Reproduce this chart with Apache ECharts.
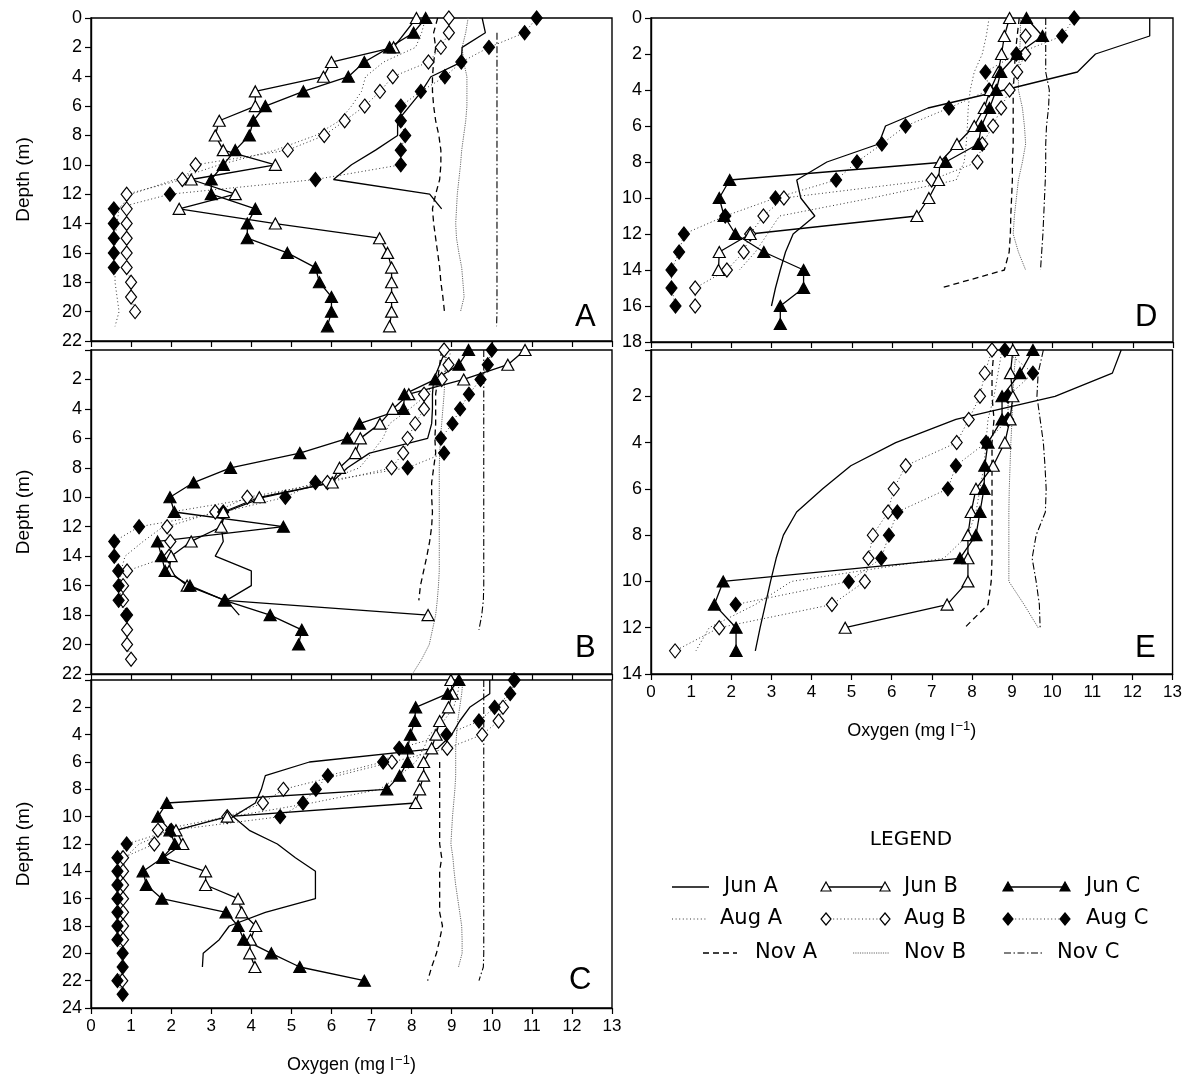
<!DOCTYPE html>
<html><head><meta charset="utf-8">
<script src="https://cdn.jsdelivr.net/npm/echarts/dist/echarts.min.js"></script>
<style>html,body{margin:0;padding:0;background:#fff}#c{width:1185px;height:1079px}</style>
</head><body><div id="c"></div>
<script>
// Each pair: [depth (m), oxygen (mg/l)]
// ---- Panel A ----
const A_JunA = [[0,9.76],[1,9.84],[2,9.26],[3,9.24],[4,8.48],[5,8.25],[6,7.95],[7,7.65],[8,7.65],[9,7.1],[10,6.5],[11,6.05],[12,8.45],[13,8.75]];
const A_JunB = [[0,8.12],[2,7.55],[3,6.0],[4,5.8],[5,4.1],[6,4.1],[7,3.2],[8,3.1],[9,3.3],[10,4.6],[11,2.5],[12,3.6],[13,2.2],[14,4.6],[15,7.2],[16,7.4],[17,7.5],[18,7.5],[19,7.5],[20,7.5],[21,7.45]];
const A_JunC = [[0,8.35],[1,8.05],[2,7.45],[3,6.82],[4,6.42],[5,5.3],[6,4.35],[7,4.05],[8,3.95],[9,3.6],[10,3.3],[11,3.0],[12,3.0],[13,4.1],[14,3.9],[15,3.9],[16,4.9],[17,5.6],[18,5.7],[19,6.0],[20,6.0],[21,5.9]];
const A_AugA = [[0,8.35],[1,8.25],[2,8.1],[3,7.3],[4,6.85],[5,6.75],[6,6.5],[7,6.2],[8,5.6],[9,4.6],[10,3.2],[11,2.1],[12,1.0],[13,0.7],[14,0.65],[15,0.6],[16,0.6],[17,0.6],[18,0.6],[19,0.65],[20,0.7],[21,0.6]];
const A_AugB = [[0,8.93],[1,8.93],[2,8.73],[3,8.42],[4,7.53],[5,7.21],[6,6.83],[7,6.33],[8,5.82],[9,4.91],[10,2.61],[11,2.28],[12,0.89],[13,0.89],[14,0.89],[15,0.89],[16,0.89],[17,0.89],[18,1.0],[19,1.0],[20,1.1]];
const A_AugC = [[0,11.12],[1,10.82],[2,9.93],[3,9.24],[4,8.83],[5,8.23],[6,7.73],[7,7.73],[8,7.84],[9,7.73],[10,7.73],[11,5.6],[12,1.97],[13,0.57],[14,0.57],[15,0.57],[16,0.57],[17,0.57]];
const A_NovA = [[0,8.65],[1,8.55],[2,8.6],[3,8.55],[4,8.52],[5,8.52],[6,8.55],[7,8.6],[8,8.68],[9,8.73],[10,8.73],[11,8.7],[12,8.6],[13,8.52],[14,8.55],[15,8.6],[16,8.65],[17,8.7],[18,8.73],[19,8.78],[20,8.82]];
const A_NovB = [[0,9.41],[1,9.35],[2,9.26],[3,9.3],[4,9.38],[5,9.38],[6,9.38],[7,9.35],[8,9.3],[9,9.25],[10,9.22],[11,9.18],[12,9.14],[13,9.12],[14,9.1],[15,9.12],[16,9.18],[17,9.25],[18,9.28],[19,9.31],[20,9.22]];
const A_NovC = [[1,10.13],[2,10.13],[3,10.13],[4,10.13],[5,10.13],[6,10.13],[7,10.13],[8,10.13],[9,10.13],[10,10.13],[11,10.13],[12,10.13],[13,10.13],[14,10.13],[15,10.13],[16,10.13],[17,10.13],[18,10.13],[19,10.13],[20,10.13],[21,10.12]];
// ---- Panel B ----
const B_JunA = [[0,8.85],[1,8.7],[2,8.55],[3,8.52],[4,8.52],[5,8.5],[6,8.4],[7,6.95],[8,6.4],[9,6.0],[10,4.3],[11,3.35],[12,3.25],[13,3.3],[14,3.1],[15,4.0],[16,4.0],[17,3.38],[18,3.7]];
const B_JunB = [[0,10.83],[1,10.4],[2,9.3],[3,7.93],[4,7.53],[5,7.21],[6,6.72],[7,6.6],[8,6.2],[9,6.02],[10,4.2],[11,3.3],[12,3.25],[13,2.5],[14,2.0],[15,1.95],[16,2.4],[17,3.35],[18,8.41]];
const B_JunC = [[0,9.42],[1,9.18],[2,8.59],[3,7.82],[4,7.8],[5,6.7],[6,6.4],[7,5.21],[8,3.48],[9,2.56],[10,1.97],[11,2.08],[12,4.8],[13,1.66],[14,1.76],[15,1.85],[16,2.47],[17,3.33],[18,4.47],[19,5.26],[20,5.18]];
const B_AugA = [[0,8.98],[1,8.9],[2,8.75],[3,8.4],[4,7.95],[5,7.45],[6,7.28],[7,7.0],[8,6.7],[9,5.7],[10,4.2],[11,2.0],[12,1.8],[13,1.3],[14,0.85],[15,0.75],[16,0.72],[17,0.75]];
const B_AugB = [[0,8.81],[1,8.92],[2,8.75],[3,8.31],[4,8.31],[5,8.09],[6,7.9],[7,7.79],[8,7.5],[9,5.9],[10,3.9],[11,3.1],[12,1.9],[13,1.98],[14,1.95],[15,0.9],[16,0.8],[17,0.8],[18,0.9],[19,0.9],[20,0.9],[21,1.0]];
const B_AugC = [[0,10.0],[1,9.9],[2,9.72],[3,9.43],[4,9.21],[5,9.02],[6,8.73],[7,8.81],[8,7.9],[9,5.6],[10,4.85],[11,3.3],[12,1.2],[13,0.58],[14,0.58],[15,0.68],[16,0.69],[17,0.69],[18,0.88]];
const B_NovA = [[0,8.75],[1,8.7],[2,8.65],[3,8.6],[4,8.6],[5,8.6],[6,8.58],[7,8.6],[8,8.55],[9,8.5],[10,8.5],[11,8.52],[12,8.5],[13,8.45],[14,8.38],[15,8.3],[16,8.22],[17,8.18]];
const B_NovB = [[0,8.85],[1,8.84],[2,8.83],[3,8.81],[4,8.78],[5,8.75],[6,8.72],[7,8.7],[8,8.69],[9,8.69],[10,8.69],[11,8.69],[12,8.69],[13,8.69],[14,8.69],[15,8.69],[16,8.67],[17,8.64],[18,8.6],[19,8.52],[20,8.44],[21,8.25],[22,8.02]];
const B_NovC = [[0,9.8],[1,9.8],[2,9.8],[3,9.8],[4,9.8],[5,9.8],[6,9.8],[7,9.8],[8,9.8],[9,9.8],[10,9.8],[11,9.8],[12,9.8],[13,9.8],[14,9.8],[15,9.8],[16,9.8],[17,9.79],[18,9.75],[19,9.68]];
// ---- Panel C ----
const C_JunA = [[0,9.95],[1,9.95],[2,9.45],[3,9.2],[4,9.0],[5,8.65],[6,5.45],[7,4.35],[8,4.25],[9,4.1],[10,3.55],[11,3.95],[12,4.65],[13,5.1],[14,5.6],[15,5.6],[16,5.6],[17,4.35],[18,3.45],[19,3.2],[20,2.8],[21,2.78]];
const C_JunB = [[0,8.98],[1,9.02],[2,8.92],[3,8.7],[4,8.61],[5,8.5],[6,8.3],[7,8.3],[8,8.2],[9,8.1],[10,3.4],[11,2.12],[12,2.29],[13,1.8],[14,2.86],[15,2.86],[16,3.67],[17,3.76],[18,4.11],[19,3.98],[20,3.96],[21,4.09]];
const C_JunC = [[0,9.18],[1,8.9],[2,8.1],[3,8.08],[4,7.97],[5,7.9],[6,7.9],[7,7.7],[8,7.38],[9,1.89],[10,1.67],[11,1.97],[12,2.09],[13,1.79],[14,1.3],[15,1.38],[16,1.77],[17,3.37],[18,3.67],[19,3.81],[20,4.5],[21,5.21],[22,6.82]];
const C_AugA = [[0,9.2],[1,9.15],[2,9.05],[3,8.8],[4,8.45],[5,8.3],[6,8.1],[7,7.7],[8,7.2],[9,5.5],[10,3.5],[11,2.0],[12,1.2],[13,0.85],[14,0.8],[15,0.8],[16,0.8],[17,0.8],[18,0.8],[19,0.8]];
const C_AugB = [[0,10.55],[2,10.28],[3,10.17],[4,9.76],[5,8.89],[6,7.51],[8,4.8],[9,4.29],[10,3.4],[11,1.67],[12,1.58],[13,0.8],[14,0.8],[15,0.8],[16,0.8],[17,0.8],[18,0.8],[19,0.8],[22,0.78]];
const C_AugC = [[0,10.57],[1,10.46],[2,10.07],[3,9.68],[4,8.87],[5,7.69],[6,7.29],[7,5.91],[8,5.61],[9,5.29],[10,4.72],[11,2.0],[12,0.89],[13,0.66],[14,0.66],[15,0.66],[16,0.66],[17,0.66],[18,0.66],[19,0.66],[20,0.79],[21,0.79],[22,0.66],[23,0.79]];
const C_NovA = [[6,8.7],[7,8.7],[8,8.7],[9,8.7],[10,8.7],[11,8.7],[12,8.7],[13,8.75],[14,8.7],[15,8.7],[16,8.7],[17,8.7],[18,8.77],[19,8.7],[20,8.62],[21,8.5],[22,8.4]];
const C_NovB = [[0,9.28],[1,9.25],[2,9.2],[3,9.15],[4,9.12],[5,9.1],[6,9.1],[7,9.1],[8,9.08],[9,9.05],[10,9.02],[11,9.0],[12,8.98],[13,9.03],[14,9.06],[15,9.1],[16,9.15],[17,9.2],[18,9.25],[19,9.26],[20,9.26],[21,9.17]];
const C_NovC = [[0,9.8],[1,9.8],[2,9.8],[3,9.8],[4,9.8],[5,9.8],[6,9.8],[7,9.8],[8,9.8],[9,9.8],[10,9.8],[11,9.8],[12,9.8],[13,9.8],[14,9.8],[15,9.8],[16,9.8],[17,9.8],[18,9.8],[19,9.8],[20,9.8],[21,9.79],[22,9.68]];
// ---- Panel D ----
const D_JunA = [[0,12.42],[1,12.42],[2,11.07],[3,10.62],[4,8.8],[5,6.9],[6,5.84],[7,5.67],[8,4.38],[9,3.63],[10,3.73],[11,4.08],[12,3.54],[13,3.35],[14,3.22],[15,3.1],[16,3.0]];
const D_JunB = [[0,8.93],[1,8.8],[2,8.73],[3,8.65],[4,8.45],[5,8.3],[6,8.05],[7,7.62],[8,7.2],[9,7.16],[10,6.92],[11,6.62],[12,2.47],[13,1.7],[14,1.68]];
const D_JunC = [[0,9.35],[1,9.75],[2,9.12],[3,8.71],[4,8.6],[5,8.43],[6,8.23],[7,8.15],[8,7.34],[9,1.96],[10,1.7],[11,1.82],[12,2.1],[13,2.81],[14,3.8],[15,3.8],[16,3.22],[17,3.22]];
const D_AugA = [[0,8.42],[1,8.35],[2,8.25],[3,8.05],[4,7.95],[5,7.9],[6,7.88],[7,7.85],[8,7.8],[9,7.6],[10,5.5],[11,3.2],[12,2.9],[13,2.6],[14,2.2]];
const D_AugB = [[1,9.33],[2,9.32],[3,9.12],[4,8.93],[5,8.72],[6,8.52],[7,8.25],[8,8.13],[9,6.99],[10,3.31],[11,2.8],[12,2.47],[13,2.31],[14,1.89],[15,1.1],[16,1.1]];
const D_AugC = [[0,10.54],[1,10.24],[2,9.1],[3,8.33],[4,8.42],[5,7.42],[6,6.34],[7,5.75],[8,5.13],[9,4.61],[10,3.1],[11,1.85],[12,0.82],[13,0.7],[14,0.51],[15,0.51],[16,0.61]];
const D_NovA = [[0,9.17],[1,9.12],[2,9.07],[3,9.05],[4,9.02],[5,9.02],[6,9.02],[7,9.02],[8,9.0],[9,9.0],[10,8.98],[11,8.96],[12,8.95],[13,8.92],[14,8.8],[15,7.22]];
const D_NovB = [[0,9.2],[1,9.2],[2,9.18],[3,9.15],[4,9.15],[5,9.25],[6,9.3],[7,9.33],[8,9.25],[9,9.15],[10,9.1],[11,9.05],[12,9.02],[13,9.15],[14,9.33]];
const D_NovC = [[0,9.83],[1,9.83],[2,9.83],[3,9.83],[4,9.92],[5,9.9],[6,9.85],[7,9.83],[8,9.83],[9,9.82],[10,9.8],[11,9.78],[12,9.76],[13,9.73],[14,9.7]];
// ---- Panel E ----
const E_JunA = [[0,11.72],[1,11.5],[2,10.07],[3,7.6],[4,6.1],[5,4.98],[6,4.28],[7,3.63],[8,3.3],[9,3.12],[10,2.98],[11,2.85],[12,2.72],[13,2.6]];
const E_JunB = [[0,9.02],[1,8.96],[2,9.02],[3,8.95],[4,8.82],[5,8.53],[6,8.1],[7,7.98],[8,7.9],[9,7.9],[10,7.9],[11,7.38],[12,4.84]];
const E_JunC = [[0,9.52],[1,9.2],[2,8.75],[3,8.75],[4,8.4],[5,8.32],[6,8.3],[7,8.2],[8,8.1],[9,7.7],[10,1.8],[11,1.58],[12,2.12],[13,2.12]];
const E_AugA = [[0,8.75],[1,8.65],[2,8.55],[3,8.4],[4,8.35],[5,8.3],[6,8.2],[7,8.1],[8,7.9],[9,7.3],[10,3.5],[11,2.6],[12,1.45],[13,1.12]];
const E_AugB = [[0,8.5],[1,8.32],[2,8.2],[3,7.92],[4,7.62],[5,6.35],[6,6.05],[7,5.91],[8,5.53],[9,5.42],[10,5.33],[11,4.51],[12,1.7],[13,0.6]];
const E_AugC = [[0,8.82],[1,9.52],[2,8.9],[3,8.9],[4,8.35],[5,7.6],[6,7.4],[7,6.14],[8,5.93],[9,5.74],[10,4.93],[11,2.11]];
const E_NovA = [[0,8.55],[1,8.5],[2,8.5],[3,8.55],[4,8.5],[5,8.5],[6,8.5],[7,8.5],[8,8.5],[9,8.5],[10,8.48],[11,8.4],[12,7.82]];
const E_NovB = [[0,9.1],[1,9.05],[2,9.02],[3,9.0],[4,8.97],[5,8.95],[6,8.93],[7,8.92],[8,8.92],[9,8.92],[10,8.92],[11,9.3],[12,9.65]];
const E_NovC = [[0,9.78],[1,9.65],[2,9.62],[3,9.7],[4,9.78],[5,9.82],[6,9.85],[7,9.83],[8,9.6],[9,9.5],[10,9.6],[11,9.68],[12,9.7]];

const X_TICKS = [0,1,2,3,4,5,6,7,8,9,10,11,12,13];
const SERIES_NAMES = ['Jun A','Jun B','Jun C','Aug A','Aug B','Aug C','Nov A','Nov B','Nov C'];

const PANEL_DATA = {
  A: [A_JunA,A_JunB,A_JunC,A_AugA,A_AugB,A_AugC,A_NovA,A_NovB,A_NovC],
  B: [B_JunA,B_JunB,B_JunC,B_AugA,B_AugB,B_AugC,B_NovA,B_NovB,B_NovC],
  C: [C_JunA,C_JunB,C_JunC,C_AugA,C_AugB,C_AugC,C_NovA,C_NovB,C_NovC],
  D: [D_JunA,D_JunB,D_JunC,D_AugA,D_AugB,D_AugC,D_NovA,D_NovB,D_NovC],
  E: [E_JunA,E_JunB,E_JunC,E_AugA,E_AugB,E_AugC,E_NovA,E_NovB,E_NovC]
};

const FONT = 'Liberation Sans, Arial, sans-serif';
const PANELS = [
  {key:'A', left:91, top:18, width:521, height:323, ymax:22, show0:true, xLab:false, yName:true},
  {key:'B', left:91, top:350, width:521, height:324, ymax:22, show0:false, xLab:false, yName:true},
  {key:'C', left:91, top:680, width:521, height:328, ymax:24, show0:false, xLab:true, yName:true},
  {key:'D', left:651, top:18, width:522, height:324, ymax:18, show0:true, xLab:false, yName:false},
  {key:'E', left:651, top:350, width:522, height:324, ymax:14, show0:false, xLab:true, yName:false}
];

const DOT = [1,2.6], FINE = [1.2,1.1], DASH = [6,4], DASHDOT = [7,2.5,1.5,2.5];
const STYLE = [
  {lt:'solid', lw:1.3, lc:'#000', sym:'none'},
  {lt:'solid', lw:1.3, lc:'#000', sym:'triangle', fill:'#fff'},
  {lt:'solid', lw:1.3, lc:'#000', sym:'triangle', fill:'#000'},
  {lt:DOT, lw:1, lc:'#333', sym:'none'},
  {lt:DOT, lw:1, lc:'#333', sym:'diamond', fill:'#fff'},
  {lt:DOT, lw:1, lc:'#333', sym:'diamond', fill:'#000'},
  {lt:DASH, lw:1.3, lc:'#000', sym:'none'},
  {lt:FINE, lw:1, lc:'#666', sym:'none'},
  {lt:DASHDOT, lw:1.1, lc:'#000', sym:'none'}
];
const DRAW_ORDER = [6,7,8,3,0,4,5,1,2];

const grid = [], xAxis = [], yAxis = [], series = [];
PANELS.forEach((p, i) => {
  grid.push({left:p.left, top:p.top, width:p.width, height:p.height, show:true, borderColor:'#000', borderWidth:1.4, backgroundColor:'transparent'});
  xAxis.push({
    type:'value', gridIndex:i, min:X_TICKS[0], max:X_TICKS[X_TICKS.length-1], interval:1,
    axisLine:{show:true, onZero:false, lineStyle:{color:'#000', width:1.4}},
    axisTick:{show:true, length:6, lineStyle:{color:'#000', width:1.2}},
    axisLabel:{show:p.xLab, fontSize:17, color:'#000', margin:10, fontFamily:FONT},
    splitLine:{show:false},
    name: p.xLab ? 'Oxygen (mg l{s|\u22121})' : '',
    nameLocation:'middle', nameGap:46,
    nameTextStyle:{fontSize:18, color:'#000', fontFamily:FONT,
      rich:{s:{fontSize:13, color:'#000', fontFamily:FONT, verticalAlign:'top', padding:[0,0,10,1]}}}
  });
  yAxis.push({
    type:'value', gridIndex:i, inverse:true, min:0, max:p.ymax, interval:2,
    axisLine:{show:true, onZero:false, lineStyle:{color:'#000', width:1.4}},
    axisTick:{show:true, length:6, lineStyle:{color:'#000', width:1.2}},
    axisLabel:{fontSize:18, color:'#000', margin:9, fontFamily:FONT,
      formatter:(v) => (v === 0 && !p.show0) ? '' : String(v)},
    splitLine:{show:false},
    name: p.yName ? 'Depth (m)' : '', nameLocation:'middle', nameGap:58, nameRotate:90,
    nameTextStyle:{fontSize:19, color:'#000', fontFamily:FONT}
  });
  const sets = PANEL_DATA[p.key];
  DRAW_ORDER.forEach(k => {
    const st = STYLE[k];
    const s = {
      type:'line', name:SERIES_NAMES[k] + ' ' + p.key, xAxisIndex:i, yAxisIndex:i,
      data: sets[k].map(d => [d[1], d[0]]),
      lineStyle:{type:st.lt, width:st.lw, color:st.lc},
      symbol:st.sym, showSymbol:st.sym !== 'none', showAllSymbol:true,
      silent:true, animation:false, clip:true
    };
    if (st.sym === 'triangle') { s.symbolSize = [12,11]; }
    if (st.sym === 'diamond') { s.symbolSize = [11,14]; }
    if (st.sym !== 'none') {
      s.itemStyle = {color:st.fill, borderColor:'#000', borderWidth:1.2, opacity:1};
    } else {
      s.itemStyle = {color:st.lc};
    }
    series.push(s);
  });
});

// legend & panel letters
const graphic = [];
const letters = [['A',575,302],['B',575,633],['C',569,965],['D',1135,302],['E',1135,633]];
letters.forEach(l => graphic.push({type:'text', x:l[1], y:l[2], style:{text:l[0], fill:'#000', font:'31px ' + FONT}}));

graphic.push({type:'text', x:911, y:840, style:{text:'LEGEND', textAlign:'center', textVerticalAlign:'middle', fill:'#000', font:'20px DejaVu Sans'}});
function lineEl(x1, x2, y, k) {
  const st = STYLE[k];
  return {type:'line', shape:{x1:x1, y1:y, x2:x2, y2:y}, style:{stroke:st.lc, lineWidth:st.lw, lineDash: Array.isArray(st.lt) ? st.lt : null}};
}
function symEl(cx, cy, k) {
  const st = STYLE[k];
  let pts;
  if (st.sym === 'triangle') pts = [[cx, cy-5],[cx+5, cy+4],[cx-5, cy+4]];
  else pts = [[cx, cy-6],[cx+5, cy],[cx, cy+6],[cx-5, cy]];
  return {type:'polygon', shape:{points:pts}, style:{fill:st.fill, stroke:'#000', lineWidth:1.2}, z:10};
}
function textEl(x, y, t) {
  return {type:'text', x:x, y:y, style:{text:t, textVerticalAlign:'middle', fill:'#000', font:'21px DejaVu Sans'}};
}
const rows = [887, 919, 953];
// column 1
graphic.push(lineEl(672, 709, rows[0], 0), textEl(724, rows[0], SERIES_NAMES[0]));
graphic.push(lineEl(672, 707, rows[1], 3), textEl(720, rows[1], SERIES_NAMES[3]));
graphic.push(lineEl(703, 737, rows[2], 6), textEl(755, rows[2], SERIES_NAMES[6]));
// column 2
graphic.push(lineEl(826, 885, rows[0], 1), symEl(826, rows[0], 1), symEl(885, rows[0], 1), textEl(904, rows[0], SERIES_NAMES[1]));
graphic.push(lineEl(826, 885, rows[1], 4), symEl(826, rows[1], 4), symEl(885, rows[1], 4), textEl(904, rows[1], SERIES_NAMES[4]));
graphic.push(lineEl(853, 889, rows[2], 7), textEl(904, rows[2], SERIES_NAMES[7]));
// column 3
graphic.push(lineEl(1008, 1065, rows[0], 2), symEl(1008, rows[0], 2), symEl(1065, rows[0], 2), textEl(1086, rows[0], SERIES_NAMES[2]));
graphic.push(lineEl(1008, 1065, rows[1], 5), symEl(1008, rows[1], 5), symEl(1065, rows[1], 5), textEl(1086, rows[1], SERIES_NAMES[5]));
graphic.push(lineEl(1004, 1042, rows[2], 8), textEl(1057, rows[2], SERIES_NAMES[8]));

const chart = echarts.init(document.getElementById('c'), null, {renderer:'canvas'});
chart.setOption({
  backgroundColor:'#fff',
  animation:false,
  grid:grid, xAxis:xAxis, yAxis:yAxis, series:series, graphic:graphic
});
</script></body></html>
